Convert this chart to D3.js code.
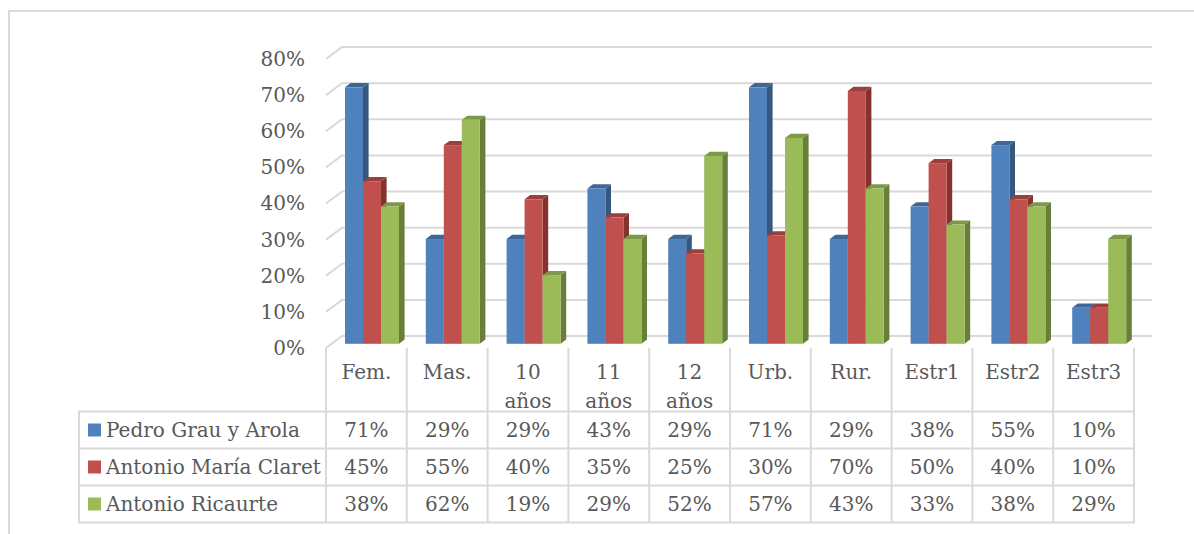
<!DOCTYPE html>
<html>
<head>
<meta charset="utf-8">
<script src="https://cdn.jsdelivr.net/npm/d3@7"></script>
<style>
  body { margin: 0; background: #fff; }
  text { font-family: "DejaVu Serif", serif; font-size: 20px; fill: #595959; }
</style>
</head>
<body>
<svg id="chart" width="1194" height="534"></svg>
<script>
const categories = ["Fem.", "Mas.", "10 años", "11 años", "12 años", "Urb.", "Rur.", "Estr1", "Estr2", "Estr3"]
const series = ["Pedro Grau y Arola", "Antonio María Claret", "Antonio Ricaurte"]

const pedro_grau = [0.71, 0.29, 0.29, 0.43, 0.29, 0.71, 0.29, 0.38, 0.55, 0.10]
const maria_claret = [0.45, 0.55, 0.40, 0.35, 0.25, 0.30, 0.70, 0.50, 0.40, 0.10]
const ricaurte = [0.38, 0.62, 0.19, 0.29, 0.52, 0.57, 0.43, 0.33, 0.38, 0.29]

const y_ticks = [0, 0.1, 0.2, 0.3, 0.4, 0.5, 0.6, 0.7, 0.8]

const colors = {
  front: ["#4F81BD", "#C0504D", "#9BBB59"],
  top: ["#3E6797", "#9B3F3C", "#7D9848"],
  side: ["#36577F", "#83322F", "#687F39"],
}

const values = [pedro_grau, maria_claret, ricaurte]
const grid_color = "#d9d9d9"

// depth of the 3d box and the slice the bars sit in
const depth = { x: 16, y: -12 }
const bar_front = 0.35
const bar_back = 0.7

const svg = d3.select("#chart")

const x = d3.scaleBand()
  .domain(categories)
  .range([326, 1134])

const x_inner = d3.scaleBand()
  .domain(series)
  .range([0, x.bandwidth()])
  .paddingOuter(0.745)

const y = d3.scaleLinear()
  .domain([0, 0.8])
  .range([348, 59])

// outer border
svg.append("path")
  .attr("d", "M9,534 V11 H1194")
  .attr("fill", "none")
  .attr("stroke", grid_color)
  .attr("stroke-width", 2)

// gridlines on the back wall, with the slanted side
const x_left = x.range()[0]
const x_right = x.range()[1] + depth.x + 2
svg.append("g")
  .selectAll("path")
  .data(y_ticks)
  .enter()
  .append("path")
  .attr("d", d => `M${x_left},${y(d)} L${x_left + depth.x},${y(d) + depth.y} H${x_right}`)
  .attr("fill", "none")
  .attr("stroke", grid_color)
  .attr("stroke-width", 2)

// y axis labels
svg.append("g")
  .attr("transform", "translate(305,0)")
  .call(d3.axisLeft(y).tickValues(y_ticks).tickFormat(d3.format(".0%")).tickSize(0).tickPadding(0))
  .call(g => g.select(".domain").remove())
  .selectAll("text")
  .style("font-family", "DejaVu Serif")
  .style("font-size", "20px")
  .attr("fill", "#595959")

// bars
const fx = bar_front * depth.x, fy = bar_front * depth.y
const bx = bar_back * depth.x, by = bar_back * depth.y

categories.forEach((cat, ci) => {
  series.forEach((name, si) => {
    const v = values[si][ci]
    const x0 = x(cat) + x_inner(name) + fx
    const x1 = x0 + x_inner.bandwidth()
    const y0 = y(0) + fy
    const y1 = y(v) + fy
    const dx = bx - fx, dy = by - fy
    const g = svg.append("g")

    g.append("path")
      .attr("d", `M${x1},${y1} L${x1 + dx},${y1 + dy} V${y0 + dy} L${x1},${y0} Z`)
      .attr("fill", colors.side[si])
    g.append("path")
      .attr("d", `M${x0},${y1} L${x0 + dx},${y1 + dy} H${x1 + dx} L${x1},${y1} Z`)
      .attr("fill", colors.top[si])
    g.append("rect")
      .attr("x", x0)
      .attr("y", y1)
      .attr("width", x1 - x0)
      .attr("height", y0 - y1)
      .attr("fill", colors.front[si])
  })
})

// data table
const table_left = 79
const row_top = 411.5
const row_h = 37
const table_bottom = row_top + row_h * series.length
const table_right = x.range()[1] + 1

const lines = svg.append("g")
  .attr("stroke", grid_color)
  .attr("stroke-width", 2)

categories.concat([null]).forEach((cat, i) => {
  const lx = cat === null ? x.range()[1] : x(cat)
  lines.append("line")
    .attr("x1", lx).attr("x2", lx)
    .attr("y1", y(0)).attr("y2", table_bottom)
})

lines.append("line")
  .attr("x1", table_left).attr("x2", table_left)
  .attr("y1", row_top).attr("y2", table_bottom)

for (let r = 0; r <= series.length; r++){
  lines.append("line")
    .attr("x1", table_left - 1).attr("x2", table_right)
    .attr("y1", row_top + r * row_h).attr("y2", row_top + r * row_h)
}

// category headers, wrapped on the space
svg.append("g")
  .selectAll("text")
  .data(categories)
  .enter()
  .append("text")
  .attr("text-anchor", "middle")
  .attr("x", d => x(d) + x.bandwidth() / 2)
  .attr("y", 379)
  .each(function(d){
    const parts = d.split(" ")
    parts.forEach((p, i) => {
      d3.select(this).append("tspan")
        .attr("x", x(d) + x.bandwidth() / 2)
        .attr("dy", i === 0 ? 0 : 29)
        .text(p)
    })
  })

// rows
series.forEach((name, si) => {
  const cy = row_top + si * row_h + row_h / 2

  svg.append("rect")
    .attr("x", 88)
    .attr("y", cy - 6.5)
    .attr("width", 13)
    .attr("height", 13)
    .attr("fill", colors.front[si])

  svg.append("text")
    .attr("x", 106)
    .attr("y", cy + 7)
    .text(name)

  svg.append("g")
    .selectAll("text")
    .data(values[si])
    .enter()
    .append("text")
    .attr("text-anchor", "middle")
    .attr("x", (d, i) => x(categories[i]) + x.bandwidth() / 2)
    .attr("y", cy + 7)
    .text(d => d3.format(".0%")(d))
})
</script>
</body>
</html>
